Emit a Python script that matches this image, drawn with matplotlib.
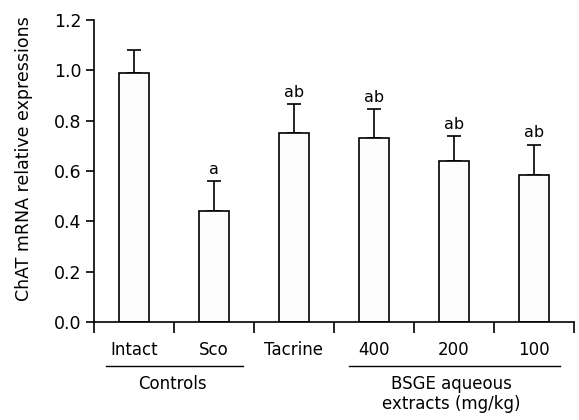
import numpy as np
import matplotlib
matplotlib.use('Agg')
import matplotlib.pyplot as plt
import matplotlib.transforms as mtransforms

# 数据
groups = ["Intact", "Sco", "Tacrine", "400", "200", "100"]
means = [0.99, 0.44, 0.75, 0.73, 0.64, 0.585]
errs = [0.09, 0.12, 0.115, 0.115, 0.10, 0.12]
marks = ["", "a", "ab", "ab", "ab", "ab"]

plt.rcParams['font.family'] = ['DejaVu Sans']

fig = plt.figure(figsize=(5.79, 4.20), dpi=100)
ax = fig.add_axes([94 / 579, 98 / 420, 480 / 579, 302 / 420])

x = np.arange(len(groups))
ax.bar(x, means, width=0.375, color='#fdfdfd', edgecolor='black', linewidth=1.2, zorder=2)
ax.errorbar(x, means, yerr=[np.zeros(len(errs)), errs], fmt='none', ecolor='black',
            elinewidth=1.2, capsize=4.8, capthick=1.2, zorder=1)

# 标记
for xi, m, e, s in zip(x, means, errs, marks):
    if s:
        ax.annotate(s, (xi, m + e), xytext=(0, 3), textcoords='offset points',
                    ha='center', va='bottom', fontsize=11.5)

ax.set_xlim(-0.5, 5.5)
ax.set_ylim(0, 1.2)
ax.set_yticks(np.arange(0, 1.21, 0.2))
ax.set_yticklabels(["%.1f" % v for v in np.arange(0, 1.21, 0.2)], fontsize=12.5)
ax.tick_params(axis='y', direction='out', length=6, width=1.2, pad=3)

ax.set_xticks(x)
ax.set_xticklabels(groups, fontsize=12)
ax.tick_params(axis='x', which='major', length=0, pad=14)
ax.set_xticks(np.arange(-0.5, 5.6, 1), minor=True)
ax.tick_params(axis='x', which='minor', direction='out', length=8, width=1.2)

for s in ['top', 'right']:
    ax.spines[s].set_visible(False)
for s in ['left', 'bottom']:
    ax.spines[s].set_linewidth(1.2)

ax.set_ylabel("ChAT mRNA relative expressions", fontsize=12.5)
ax.yaxis.set_label_coords(-0.127, 0.54)

# 分组
trans = mtransforms.blended_transform_factory(ax.transData, ax.transAxes)
ax.plot([-0.35, 1.36], [-0.146, -0.146], color='black', lw=1.0, transform=trans, clip_on=False)
ax.plot([2.69, 5.33], [-0.146, -0.146], color='black', lw=1.0, transform=trans, clip_on=False)
ax.text(0.48, -0.205, "Controls", transform=trans, ha='center', va='center', fontsize=12)
ax.text(3.97, -0.238, "BSGE aqueous\nextracts (mg/kg)", transform=trans, ha='center',
        va='center', fontsize=12, linespacing=1.15)

plt.savefig("out.png", dpi=100)
